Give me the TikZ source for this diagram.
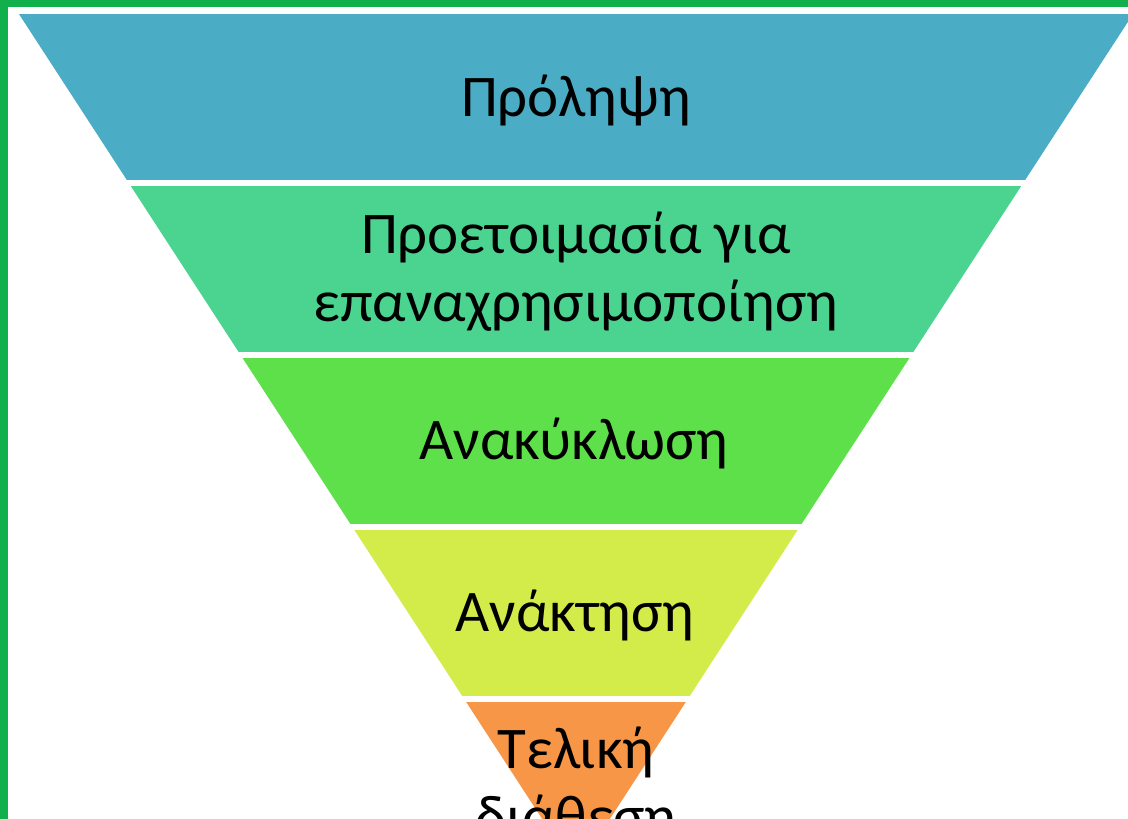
\documentclass[tikz,border=0pt]{standalone}
\usepackage{fontspec}
\setmainfont{Carlito}
\usetikzlibrary{positioning}

\definecolor{frame}{RGB}{18,176,76}
\definecolor{bandA}{RGB}{75,172,198}
\definecolor{bandB}{RGB}{74,212,144}
\definecolor{bandC}{RGB}{94,224,74}
\definecolor{bandD}{RGB}{212,236,74}
\definecolor{bandE}{RGB}{247,150,70}

\tikzset{
  lbl/.style={align=center, inner sep=0pt, text=black,
    font=\fontsize{59}{68}\selectfont},
}

\begin{document}
\begin{tikzpicture}[x=1pt, y=-1pt]
				\useasboundingbox (0,0) rectangle (1128,819);
				\fill[white] (0,0) rectangle (1128,819);

				% funnel, cut into five bands
				\begin{scope}
				\clip (576-0.65*857, 14) -- (576+0.65*857, 14) -- (576, 871) -- cycle;
				\fill[bandA] (0, 14) rectangle (1200, 14+166);
				\fill[bandB] (0, 14+172) rectangle (1200, 14+172+166);
				\fill[bandC] (0, 14+2*172) rectangle (1200, 14+2*172+166);
				\fill[bandD] (0, 14+3*172) rectangle (1200, 14+3*172+166);
				\fill[bandE] (0, 14+4*172) rectangle (1200, 900);
				\end{scope}

				\node[lbl] (prevent) at (576, 100) {Πρόληψη};
				\node[lbl] (reuse) at (576, 272) {Προετοιμασία για\\επαναχρησιμοποίηση};
				\node[lbl] (recycle) at (574, 443) {Ανακύκλωση};
				\node[lbl] (recover) at (575, 615) {Ανάκτηση};
				\node[lbl] (dispose) at (576, 786) {Τελική\\διάθεση};

				% frame (top and left only)
				\fill[frame] (0,0) rectangle (1128,7);
				\fill[frame] (0,0) rectangle (8,819);
\end{tikzpicture}
\end{document}
